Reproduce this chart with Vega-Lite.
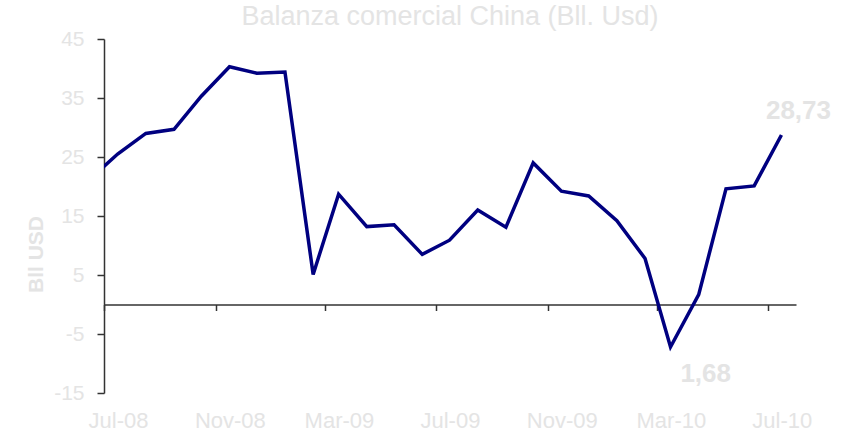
{
  "$schema": "https://vega.github.io/schema/vega-lite/v6.json",
  "width": 692,
  "height": 354,
  "autosize": "none",
  "padding": {"left": 104, "top": 39, "right": 47, "bottom": 46},
  "background": "white",
  "config": {"view": {"stroke": null}, "font": "Liberation Sans"},
  "title": {
    "text": "Balanza comercial China (Bll. Usd)",
    "fontSize": 27,
    "fontWeight": "normal",
    "color": "#E4E4E4",
    "anchor": "middle",
    "frame": "group",
    "offset": -3
  },
  "data": {
    "values": [
      {"date": "2008-06-16", "value": 21.3, "label": null},
      {"date": "2008-07-16", "value": 25.5, "label": null},
      {"date": "2008-08-16", "value": 29.0, "label": null},
      {"date": "2008-09-16", "value": 29.7, "label": null},
      {"date": "2008-10-16", "value": 35.3, "label": null},
      {"date": "2008-11-16", "value": 40.3, "label": null},
      {"date": "2008-12-16", "value": 39.2, "label": null},
      {"date": "2009-01-16", "value": 39.4, "label": null},
      {"date": "2009-02-16", "value": 5.1, "label": null},
      {"date": "2009-03-16", "value": 18.7, "label": null},
      {"date": "2009-04-16", "value": 13.2, "label": null},
      {"date": "2009-05-16", "value": 13.5, "label": null},
      {"date": "2009-06-16", "value": 8.5, "label": null},
      {"date": "2009-07-16", "value": 10.9, "label": null},
      {"date": "2009-08-16", "value": 16.0, "label": null},
      {"date": "2009-09-16", "value": 13.1, "label": null},
      {"date": "2009-10-16", "value": 24.0, "label": null},
      {"date": "2009-11-16", "value": 19.2, "label": null},
      {"date": "2009-12-16", "value": 18.4, "label": null},
      {"date": "2010-01-16", "value": 14.2, "label": null},
      {"date": "2010-02-16", "value": 7.8, "label": null},
      {"date": "2010-03-16", "value": -7.2, "label": null},
      {"date": "2010-04-16", "value": 1.68, "label": "1,68"},
      {"date": "2010-05-16", "value": 19.6, "label": null},
      {"date": "2010-06-16", "value": 20.1, "label": null},
      {"date": "2010-07-16", "value": 28.73, "label": "28,73"}
    ]
  },
  "encoding": {
    "x": {
      "field": "date",
      "type": "temporal",
      "scale": {
        "type": "utc",
        "domain": [
          {"year": 2008, "month": 7, "date": 1, "utc": true},
          {"year": 2010, "month": 8, "date": 1, "utc": true}
        ]
      },
      "axis": {
        "title": null,
        "values": [
          {"year": 2008, "month": 7, "date": 1, "utc": true},
          {"year": 2008, "month": 11, "date": 1, "utc": true},
          {"year": 2009, "month": 3, "date": 1, "utc": true},
          {"year": 2009, "month": 7, "date": 1, "utc": true},
          {"year": 2009, "month": 11, "date": 1, "utc": true},
          {"year": 2010, "month": 3, "date": 1, "utc": true},
          {"year": 2010, "month": 7, "date": 1, "utc": true}
        ],
        "labelExpr": "utcFormat(datum.value, '%b-%y')",
        "offset": {"expr": "scale('y', 0) - height"},
        "grid": false,
        "domainColor": "#333333",
        "domainWidth": 1.5,
        "tickColor": "#333333",
        "tickWidth": 1.5,
        "tickSize": 6,
        "labelOffset": 14,
        "labelPadding": 100,
        "labelFontSize": 22,
        "labelColor": "#E4E4E4",
        "labelFlush": false,
        "labelOverlap": false
      }
    },
    "y": {
      "field": "value",
      "type": "quantitative",
      "scale": {"domain": [-15, 45], "nice": false, "zero": false},
      "axis": {
        "title": "Bll USD",
        "titleFontSize": 21,
        "titleFontWeight": "bold",
        "titleColor": "#E4E4E4",
        "titlePadding": 7,
        "titleY": 215,
        "values": [-15, -5, 5, 15, 25, 35, 45],
        "labelExpr": "datum.value + ''",
        "grid": false,
        "domainColor": "#333333",
        "domainWidth": 1.5,
        "tickColor": "#333333",
        "tickWidth": 1.5,
        "tickSize": 7,
        "labelPadding": 13,
        "labelFontSize": 21,
        "labelColor": "#E4E4E4"
      }
    }
  },
  "layer": [
    {
      "mark": {"type": "line", "color": "#000080", "strokeWidth": 3.5, "clip": true}
    },
    {
      "transform": [{"filter": "datum.label === '28,73'"}],
      "mark": {"type": "text", "fontSize": 26, "fontWeight": "bold", "color": "#E4E4E4", "baseline": "alphabetic", "align": "center", "dx": 17, "dy": -16},
      "encoding": {"text": {"field": "label"}}
    },
    {
      "transform": [{"filter": "datum.label === '1,68'"}],
      "mark": {"type": "text", "fontSize": 26, "fontWeight": "bold", "color": "#E4E4E4", "baseline": "alphabetic", "align": "center", "dx": 7, "dy": 87},
      "encoding": {"text": {"field": "label"}}
    }
  ]
}
